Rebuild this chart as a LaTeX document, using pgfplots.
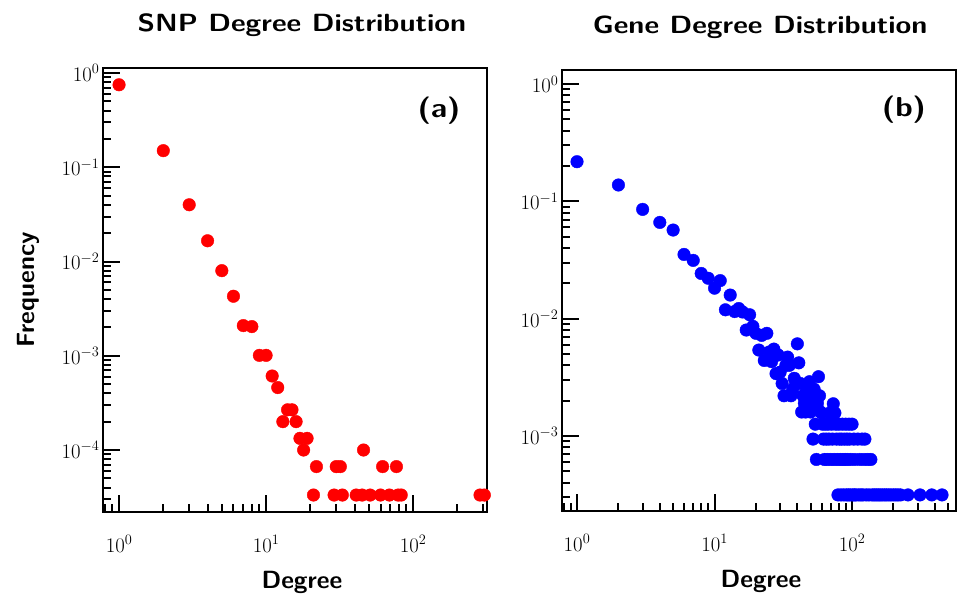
\documentclass[border=0pt]{standalone}
\usepackage{pgfplots}
\usepackage{pgfplotstable}
\pgfplotsset{compat=1.18}
\pgfplotstableread{
x y
1 0.75
2 0.15
3 0.040
4 0.0166
5 0.0080
6 0.00428
7 0.00209
8 0.00204
9 0.00101
10 0.00101
11 0.00061
12 0.00046
13 0.00020
14 0.000267
15 0.000267
16 0.00020
17 0.000133
18 0.00010
19 0.000133
21 0.0000333
22 0.0000667
29 0.0000333
30 0.0000667
32 0.0000667
33 0.0000333
41 0.0000333
45 0.0000333
46 0.00010
51 0.0000333
60 0.0000333
62 0.0000667
69 0.0000333
77 0.0000667
79 0.0000333
83 0.0000333
285 0.0000333
305 0.0000333
}\snptable
\pgfplotstableread{
x y
1 0.218
2 0.138
3 0.0855
4 0.0662
5 0.057
6 0.0353
7 0.0314
8 0.0243
9 0.0221
10 0.0182
11 0.0211
12 0.0119
13 0.0159
14 0.0115
15 0.0122
16 0.0114
17 0.0080
18 0.0108
19 0.0086
20 0.0075
21 0.0054
22 0.0072
23 0.0044
24 0.0075
25 0.0052
26 0.0043
27 0.0055
28 0.0034
29 0.0049
30 0.0035
31 0.0028
32 0.0022
33 0.0040
34 0.0047
35 0.0040
36 0.0022
37 0.0025
38 0.0031
39 0.0028
40 0.0061
41 0.0042
42 0.0028
43 0.0016
44 0.0022
45 0.0019
46 0.0016
47 0.0025
48 0.0019
49 0.0029
50 0.0016
51 0.0022
52 0.00094
53 0.0025
54 0.00126
55 0.00063
56 0.0019
57 0.0032
58 0.0022
59 0.0016
60 0.00157
61 0.00126
62 0.00094
63 0.00063
64 0.00126
65 0.00094
66 0.00063
67 0.00126
68 0.00094
69 0.00157
70 0.00063
71 0.00126
72 0.00094
73 0.00188
74 0.00063
75 0.00157
76 0.00126
77 0.00094
78 0.00063
79 0.000314
80 0.00126
81 0.00094
82 0.00063
83 0.000314
84 0.00094
85 0.00126
86 0.00063
87 0.000314
88 0.00094
89 0.00063
90 0.00126
91 0.000314
92 0.00094
93 0.00063
94 0.000314
95 0.00126
96 0.00094
97 0.000314
98 0.00063
100 0.00126
101 0.000314
103 0.00094
104 0.000314
105 0.00063
107 0.000314
110 0.00094
112 0.000314
114 0.00063
116 0.000314
118 0.00094
120 0.000314
122 0.00063
124 0.00094
127 0.000314
130 0.00063
133 0.000314
137 0.00063
140 0.000314
145 0.000314
150 0.000314
155 0.000314
160 0.000314
166 0.000314
172 0.000314
178 0.000314
185 0.000314
192 0.000314
200 0.000314
208 0.000314
216 0.000314
225 0.000314
255 0.000314
312 0.000314
380 0.000314
451 0.000314
}\genetable
\begin{document}
\begin{tikzpicture}
\path[use as bounding box] (0pt,0pt) rectangle (958pt,594pt);
\begin{loglogaxis}[
  scale only axis,
  at={(103pt,82pt)}, anchor=south west,
  width=384pt, height=444pt,
  xmin=0.778, xmax=318, ymin=2.2e-5, ymax=1.13,
  tick pos=left, major tick length=17pt, minor tick length=8pt,
  tick style={line width=2pt, black}, axis line style={line width=2.8pt},
  xticklabel style={anchor=base, yshift=-40pt, font=\huge},
  yticklabel style={font=\huge},
  title={\scalebox{1.15}[1]{SNP Degree Distribution}},
  title style={at={(axis description cs:0.518,1)}, anchor=base, yshift=30pt, font=\sffamily\bfseries\Huge},
  xlabel={Degree},
  xlabel style={at={(axis description cs:0.518,0)}, anchor=base, yshift=-76pt, font=\sffamily\bfseries\Huge},
  ylabel={Frequency},
  ylabel style={at={(axis description cs:-0.195,0.5)}, anchor=center, font=\sffamily\bfseries\Huge},
]
\addplot[only marks, mark=*, mark size=6.3pt, color=red] table[x=x,y=y] {\snptable};
\node[font=\sffamily\bfseries\Huge] at (axis description cs:0.875,0.905) {\scalebox{1.25}[1.1]{(a)}};
\end{loglogaxis}
\begin{loglogaxis}[
  scale only axis,
  at={(562pt,83pt)}, anchor=south west,
  width=394pt, height=441pt,
  xmin=0.778, xmax=570, ymin=2.29e-4, ymax=1.32,
  tick pos=left, major tick length=17pt, minor tick length=8pt,
  tick style={line width=2pt, black}, axis line style={line width=2.8pt},
  xticklabel style={anchor=base, yshift=-40pt, font=\huge},
  yticklabel style={font=\huge},
  title={\scalebox{1.15}[1]{Gene Degree Distribution}},
  title style={at={(axis description cs:0.503,1)}, anchor=base, yshift=30pt, font=\sffamily\bfseries\Huge},
  xlabel={Degree},
  xlabel style={at={(axis description cs:0.505,0)}, anchor=base, yshift=-76pt, font=\sffamily\bfseries\Huge},
]
\addplot[only marks, mark=*, mark size=6.3pt, color=blue] table[x=x,y=y] {\genetable};
\node[font=\sffamily\bfseries\Huge] at (axis description cs:0.868,0.909) {\scalebox{1.25}[1.1]{(b)}};
\end{loglogaxis}
\end{tikzpicture}
\end{document}
